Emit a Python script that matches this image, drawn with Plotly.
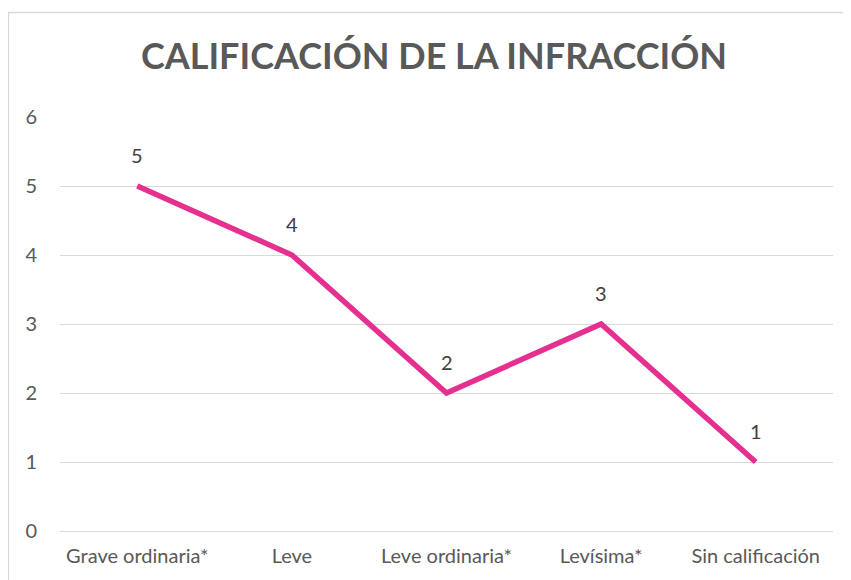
import plotly.graph_objects as go

categories = ["Grave ordinaria*", "Leve", "Leve ordinaria*", "Levísima*", "Sin calificación"]
values = [5, 4, 2, 3, 1]
title_text = "CALIFICACIÓN DE LA INFRACCIÓN"

FONT = "Lato, 'Open Sans', sans-serif"

fig = go.Figure()
fig.add_trace(go.Scatter(
    x=categories, y=values, mode="lines",
    line=dict(color="#E5308F", width=5.5),
    hoverinfo="skip", showlegend=False,
))

for c, v in zip(categories, values):
    fig.add_annotation(x=c, y=v, text=str(v), showarrow=False, yshift=31,
                       font=dict(family=FONT, size=20, color="#404040"))

# page has an 8px body margin, so compensate
fig.update_layout(
    width=843, height=572,
    margin=dict(l=52, r=18, t=109, b=49),
    paper_bgcolor="white", plot_bgcolor="white",
    title=dict(text="<b>" + title_text + "</b>", x=(434 - 8) / 843, xanchor="center",
               y=1 - 48 / 572, yanchor="middle",
               font=dict(family=FONT, size=36, color="#595959")),
    xaxis=dict(type="category", range=[-0.5, 4.5], showgrid=False, showline=False,
               zeroline=False, ticks="", ticklabelstandoff=11,
               tickfont=dict(family=FONT, size=20, color="#595959")),
    yaxis=dict(range=[0, 6], dtick=1, showgrid=True, gridcolor="#D9D9D9", gridwidth=1.3,
               zeroline=True, zerolinecolor="#D9D9D9", zerolinewidth=1.3,
               showline=False, ticks="", ticklabelstandoff=22,
               tickfont=dict(family=FONT, size=20, color="#595959")),
    shapes=[dict(type="rect", xref="paper", yref="paper",
                 x0=(8.5 - 60) / 773, x1=(850 - 60) / 773,
                 y0=(531 - 590) / 414, y1=(531 - 12.5) / 414,
                 line=dict(color="#D9D9D9", width=1.3), fillcolor="rgba(0,0,0,0)",
                 layer="below")],
)

fig.write_html("out.html")
